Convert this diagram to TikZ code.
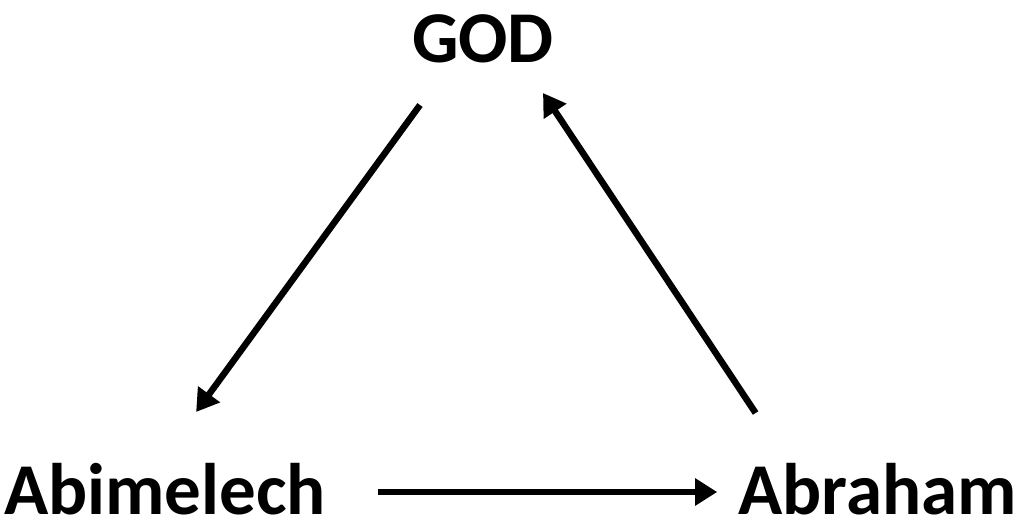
\documentclass[tikz,border=0pt]{standalone}
\usepackage{fontspec}
\setmainfont{Carlito}
\usetikzlibrary{arrows.meta,calc}

\tikzset{
  person/.style={font=\bfseries\fontsize{73}{80}\selectfont, inner sep=0pt},
  arr/.style={line width=6.5pt, -{Triangle[length=22pt,width=26pt]}}
}

\begin{document}
\begin{tikzpicture}[x=1pt,y=-1pt]

% page frame
\useasboundingbox (0,0) rectangle (1021,523);

% names
\node[person, anchor=base]      (god)  at (483,62)  {GOD};
\node[person, anchor=base west] (abim) at (4,514)   {Abimelech};
\node[person, anchor=base east] (abra) at (1017,514) {Abraham};

% arrows
\draw[arr] ($(god.base)+(-63,43)$) -- ($(abim.base)+(31,-102)$);
\draw[arr] ($(abim.base east)+(52,-22)$) -- ($(abra.base west)+(-21,-22)$);
\draw[arr] ($(abra.base)+(-122,-101)$) -- ($(god.base)+(60,31)$);

\end{tikzpicture}
\end{document}
